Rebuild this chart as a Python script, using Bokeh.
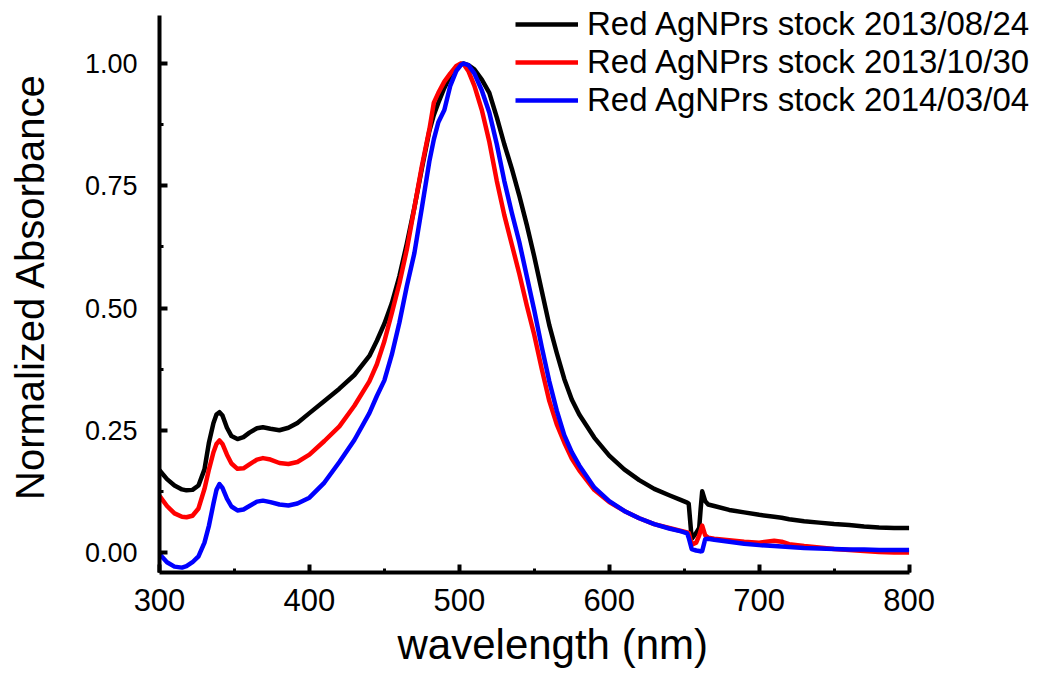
from bokeh.plotting import figure
from bokeh.models import (Range1d, SingleIntervalTicker, NumeralTickFormatter,
                          Legend, LegendItem, ColumnDataSource, Title)
from bokeh.embed import file_html
from bokeh.resources import INLINE

wavelength = [300, 305, 310, 315, 318, 322, 326, 330, 333, 336, 338, 340, 342, 345, 348,
              352, 356, 360, 365, 369, 374, 380, 386, 392, 400, 410, 420, 430, 440, 445,
              450, 455, 460, 465, 470, 475, 480, 483, 486, 490, 494, 498, 501, 503, 506,
              510, 515, 520, 525, 530, 535, 540, 545, 550, 555, 560, 565, 570, 575, 580,
              590, 600, 610, 620, 630, 640, 648, 652, 653, 655, 658, 660, 661, 662, 664,
              666, 670, 680, 690, 700, 710, 715, 720, 730, 740, 750, 760, 770, 780, 790, 800]

stock_2013_08_24 = [0.168, 0.150, 0.137, 0.129, 0.127, 0.128, 0.137, 0.170, 0.225, 0.265,
                    0.282, 0.287, 0.280, 0.255, 0.238, 0.232, 0.236, 0.245, 0.254, 0.256,
                    0.253, 0.250, 0.255, 0.265, 0.285, 0.310, 0.335, 0.363, 0.402, 0.433,
                    0.468, 0.510, 0.565, 0.632, 0.705, 0.785, 0.862, 0.895, 0.920, 0.950,
                    0.975, 0.992, 0.999, 1.000, 0.997, 0.988, 0.967, 0.940, 0.890, 0.835,
                    0.785, 0.730, 0.670, 0.605, 0.535, 0.465, 0.408, 0.355, 0.313, 0.282,
                    0.235, 0.198, 0.170, 0.148, 0.130, 0.117, 0.107, 0.102, 0.100, 0.028,
                    0.040, 0.050, 0.090, 0.125, 0.105, 0.098, 0.095, 0.087, 0.082, 0.077,
                    0.073, 0.071, 0.068, 0.064, 0.061, 0.058, 0.056, 0.053, 0.051, 0.050,
                    0.050]

stock_2013_10_30 = [0.116, 0.095, 0.080, 0.073, 0.072, 0.075, 0.090, 0.130, 0.170, 0.205,
                    0.222, 0.229, 0.222, 0.200, 0.182, 0.171, 0.172, 0.180, 0.190, 0.193,
                    0.190, 0.183, 0.181, 0.185, 0.200, 0.228, 0.258, 0.300, 0.350, 0.385,
                    0.432, 0.490, 0.550, 0.620, 0.705, 0.790, 0.865, 0.920, 0.940, 0.963,
                    0.980, 0.995, 1.000, 0.998, 0.985, 0.955, 0.905, 0.840, 0.760, 0.690,
                    0.630, 0.570, 0.505, 0.445, 0.375, 0.310, 0.262, 0.225, 0.192, 0.168,
                    0.128, 0.103, 0.085, 0.070, 0.058, 0.050, 0.044, 0.041, 0.040, 0.016,
                    0.020, 0.035, 0.045, 0.055, 0.035, 0.030, 0.028, 0.025, 0.022, 0.020,
                    0.024, 0.022, 0.017, 0.013, 0.010, 0.007, 0.005, 0.003, 0.001, 0.000,
                    0.000]

stock_2014_03_04 = [-0.003, -0.020, -0.029, -0.031, -0.028, -0.020, -0.008, 0.020, 0.055,
                    0.100, 0.128, 0.140, 0.132, 0.110, 0.094, 0.086, 0.088, 0.095, 0.104,
                    0.106, 0.103, 0.098, 0.096, 0.100, 0.112, 0.143, 0.185, 0.230, 0.285,
                    0.320, 0.352, 0.405, 0.470, 0.545, 0.612, 0.705, 0.800, 0.845, 0.880,
                    0.905, 0.955, 0.985, 0.997, 1.000, 0.997, 0.980, 0.945, 0.900, 0.835,
                    0.760, 0.695, 0.635, 0.565, 0.495, 0.420, 0.350, 0.290, 0.240, 0.205,
                    0.178, 0.133, 0.105, 0.085, 0.070, 0.058, 0.049, 0.043, 0.039, 0.030,
                    0.007, 0.004, 0.003, 0.002, 0.003, 0.027, 0.028, 0.026, 0.022, 0.018,
                    0.015, 0.013, 0.012, 0.011, 0.009, 0.008, 0.007, 0.006, 0.006, 0.005,
                    0.005, 0.005]

series_labels = ["Red AgNPrs stock 2013/08/24", "Red AgNPrs stock 2013/10/30",
                 "Red AgNPrs stock 2014/03/04"]
series_colors = ["#000000", "#ff0000", "#0000ff"]
x_label = "wavelength (nm)"
y_label = "Normalized Absorbance"
x_bounds = (300, 800)
y_bounds = (-0.041, 1.098)

FONT = "Liberation Sans"

# frame spans the whole area right/top of the axes so the legend is not clipped;
# the axes themselves are limited to their bounds
p = figure(width=1047, height=684, output_backend="svg", toolbar_location=None,
           x_range=Range1d(300, 891), y_range=Range1d(-0.041, 1.129),
           min_border_left=159, min_border_right=2, min_border_top=0,
           min_border_bottom=112)
p.outline_line_color = None
p.xgrid.visible = False
p.ygrid.visible = False
p.background_fill_color = "white"
p.border_fill_color = "white"

source = ColumnDataSource(dict(x=wavelength, a=stock_2013_08_24, b=stock_2013_10_30,
                               c=stock_2014_03_04))
renderers = []
for col, color in zip(["a", "b", "c"], series_colors):
    r = p.line("x", col, source=source, line_color=color, line_width=4.5,
               line_join="round")
    renderers.append(r)

# axes
p.xaxis.ticker = SingleIntervalTicker(interval=100, num_minor_ticks=2)
p.yaxis.ticker = SingleIntervalTicker(interval=0.25, num_minor_ticks=2)
p.yaxis.formatter = NumeralTickFormatter(format="0.00")
p.xaxis.bounds = x_bounds
p.yaxis.bounds = y_bounds
for ax in (p.xaxis[0], p.yaxis[0]):
    ax.axis_line_width = 4
    ax.axis_line_color = "black"
    ax.major_tick_line_width = 4
    ax.minor_tick_line_width = 3
    ax.major_tick_line_color = "black"
    ax.minor_tick_line_color = "black"
    ax.major_tick_in = 8
    ax.major_tick_out = 0
    ax.minor_tick_in = 4
    ax.minor_tick_out = 0
    ax.major_label_text_font = FONT
    ax.axis_label_text_font = FONT
    ax.axis_label_text_font_style = "normal"
    ax.major_label_text_color = "black"
    ax.axis_label_text_color = "black"

p.yaxis.axis_label = y_label
p.xaxis.major_label_text_font_size = "31px"
p.yaxis.major_label_text_font_size = "27px"
p.yaxis.axis_label_text_font_size = "40px"
p.xaxis.major_label_standoff = 16
p.yaxis.major_label_standoff = 22
p.yaxis.axis_label_standoff = 30

# x-axis label placed under the axis, horizontally centred on the bounded axis
xtitle = Title(text=x_label, align="left", offset=238, standoff=10,
               text_font=FONT, text_font_size="42px", text_font_style="normal",
               text_color="black")
p.add_layout(xtitle, "below")

legend = Legend(items=[LegendItem(label=l, renderers=[r]) for l, r in zip(series_labels, renderers)],
                location=(356, 453), padding=0, margin=0, spacing=0,
                glyph_width=63, glyph_height=20, label_height=20, label_standoff=9,
                label_text_font=FONT, label_text_font_size="33px",
                label_text_color="black",
                border_line_color=None, background_fill_alpha=0)
p.add_layout(legend, "center")

open("out.html", "w").write(file_html(p, INLINE))
